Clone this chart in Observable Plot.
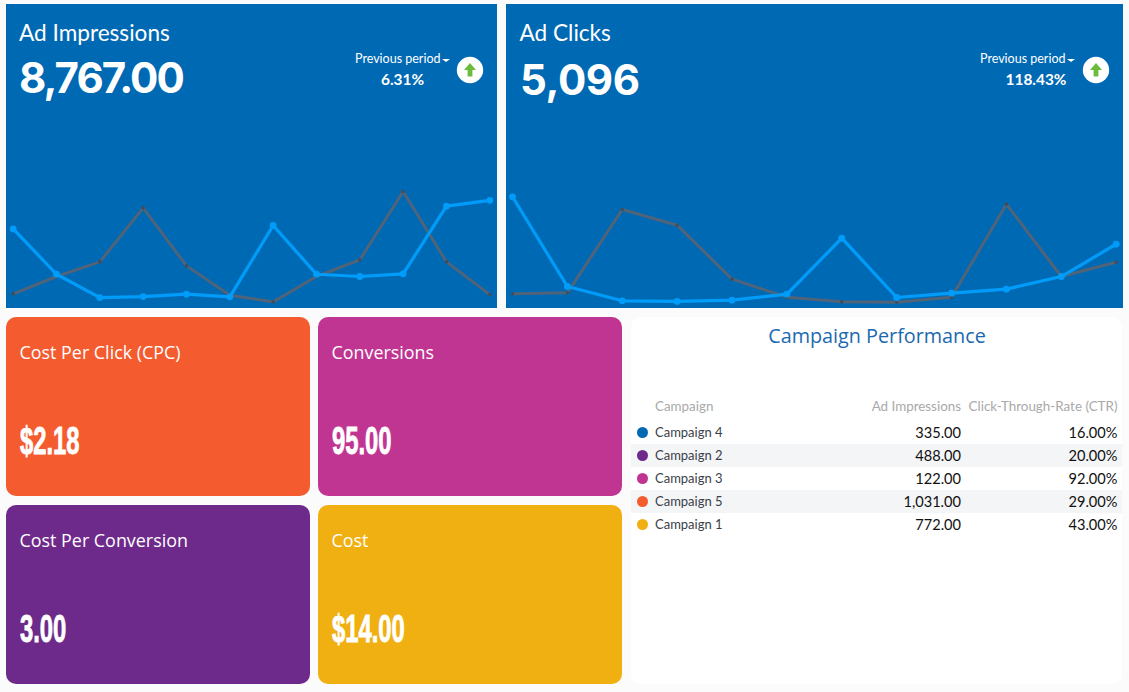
<!DOCTYPE html>
<html>
<head>
<meta charset="utf-8">
<script src="https://cdn.jsdelivr.net/npm/d3@7"></script>
<script src="https://cdn.jsdelivr.net/npm/@observablehq/plot@0.6"></script>
<style>
html,body{margin:0;padding:0;background:#fbfbfb;width:1129px;height:692px;overflow:hidden}
.box{position:absolute;box-sizing:border-box}
.txt{position:absolute;white-space:nowrap;color:#fff;line-height:1}
.kt{font-family:"Lato",sans-serif;font-size:22.6px}
.kv{font-family:"Inter",sans-serif;font-weight:700;font-size:42px}
.pp{font-family:"Lato",sans-serif;font-weight:400;font-size:12.5px;text-align:center}
.pv{font-family:"Lato",sans-serif;font-weight:700;font-size:15.4px;text-align:center}
.caret{position:absolute;width:0;height:0;border-left:4px solid transparent;border-right:4px solid transparent;border-top:3px solid #fff}
.ct{font-family:"Open Sans",sans-serif;font-size:17.9px}
.cv{font-family:"Liberation Sans",sans-serif;font-weight:700;font-size:39px;transform-origin:0 0;transform:scaleX(.61);-webkit-text-stroke:.9px #fff}
.card{border-radius:10px}
svg.icon{position:absolute}
svg{display:block}
.plot{position:absolute}
</style>
</head>
<body>
<div id="page"></div>
<script>
// Ad Impressions series
const periods = [0,1,2,3,4,5,6,7,8,9,10,11];
const impressionsCurrent  = [1155,575,277,290,320,286,1198,575,546,580,1445,1520];
const impressionsPrevious = [324,546,733,1424,682,307,222,546,759,1633,733,315];
// Ad Clicks series
const clicksCurrent  = [1531,287,88,79,97,180,957,134,194,250,425,874];
const clicksPrevious = [185,199,1355,1137,388,139,74,69,139,1429,425,624];
// Table
const tableHeaders = ["Campaign","Ad Impressions","Click-Through-Rate (CTR)"];
const campaigns   = ["Campaign 4","Campaign 2","Campaign 3","Campaign 5","Campaign 1"];
const adImpressions = ["335.00","488.00","122.00","1,031.00","772.00"];
const ctr = ["16.00%","20.00%","92.00%","29.00%","43.00%"];
const campaignColors = ["#0069b4","#6d2a8b","#c03592","#f45b2f","#f0b012"];
// Cards
const cardTitles = ["Cost Per Click (CPC)","Conversions","Cost Per Conversion","Cost"];
const cardValues = ["$2.18","95.00","3.00","$14.00"];

const page = document.getElementById("page");
function el(cls, css, text){
  const d = document.createElement("div");
  d.className = cls;
  d.style.cssText = css;
  if(text!==undefined) d.textContent = text;
  page.appendChild(d);
  return d;
}
function place(svg,left,top){
  svg.classList.add("plot");
  svg.style.left = left+"px";
  svg.style.top = top+"px";
  svg.style.position = "absolute";
  page.appendChild(svg);
}
function arrowIcon(cx,cy){
  const ns="http://www.w3.org/2000/svg";
  const s=document.createElementNS(ns,"svg");
  s.setAttribute("class","icon");
  s.setAttribute("width",28);s.setAttribute("height",28);
  s.setAttribute("viewBox","-14 -14 28 28");
  s.style.left=(cx-14)+"px";s.style.top=(cy-14)+"px";
  s.innerHTML='<circle r="13.2" fill="#fff"/><path d="M0,-7 L6,0 L2.4,0 L2.4,6.5 L-2.4,6.5 L-2.4,0 L-6,0 Z" fill="#6cbb3c"/>';
  page.appendChild(s);
}
function sparkline(cur,prev,width,ml,mr,domain){
  const rows=a=>periods.map((p,i)=>({p,v:a[i]}));
  return Plot.plot({
    width,height:304,marginTop:0,marginBottom:0,marginLeft:ml,marginRight:mr,
    style:{background:"transparent",overflow:"visible"},
    x:{axis:null,domain:[0,11]},
    y:{axis:null,domain},
    marks:[
      Plot.line(rows(prev),{x:"p",y:"v",stroke:"#4f6479",strokeWidth:3,curve:"linear"}),
      Plot.dot(rows(prev),{x:"p",y:"v",r:1.8,fill:"#3f4d5c"}),
      Plot.line(rows(cur),{x:"p",y:"v",stroke:"#009cfa",strokeWidth:3.2,curve:"linear"}),
      Plot.dot(rows(cur),{x:"p",y:"v",r:3.4,fill:"#009cfa"})
    ]
  });
}
// Top panels
el("box","left:6px;top:4px;width:491px;height:304px;background:#0069b4");
el("box","left:506px;top:4px;width:617px;height:304px;background:#0069b4");
place(sparkline(impressionsCurrent,impressionsPrevious,491,6.7,7.7,[137,4024]),6,4);
place(sparkline(clicksCurrent,clicksPrevious,617,6,7.3,[-18.5,4198]),506,4);

el("txt kt","left:19px;top:21.5px","Ad Impressions");
el("txt kv","left:19px;top:57px;letter-spacing:-1.9px","8,767.00");
el("txt kt","left:519.5px;top:21.5px","Ad Clicks");
el("txt kv","left:520px;top:59px;letter-spacing:-.4px","5,096");

el("txt pp","left:355px;top:52.5px","Previous period");
el("caret","left:442px;top:59px");
el("txt pv","left:352.5px;width:100px;top:72px","6.31%");
el("txt pp","left:980px;top:52.5px","Previous period");
el("caret","left:1067px;top:59px");
el("txt pv","left:986px;width:100px;top:72px","118.43%");
arrowIcon(470,70);
arrowIcon(1096,70);

// Cards
const cardBoxes = [
  {l:6,t:317,w:304,h:179,c:"#f45b2f"},
  {l:318,t:317,w:304,h:179,c:"#c03592"},
  {l:6,t:505,w:304,h:179,c:"#6d2a8b"},
  {l:318,t:505,w:304,h:179,c:"#f0b012"}
];
cardBoxes.forEach((b,i)=>{
  el("box card",`left:${b.l}px;top:${b.t}px;width:${b.w}px;height:${b.h}px;background:${b.c}`);
  el("txt ct",`left:${b.l+13.5}px;top:${b.t+26.5}px`,cardTitles[i]);
  el("txt cv",`left:${b.l+13.5}px;top:${b.t+103.5}px`,cardValues[i]);
});

// Table panel
el("box card","left:631px;top:317px;width:491px;height:367px;background:#fff");
el("txt","left:631.5px;width:491px;top:325px;text-align:center;font-family:'Open Sans',sans-serif;font-size:19.8px;color:#1b69b0;line-height:1.1","Campaign Performance");

const tableRows = campaigns.map((name,i)=>({name,imp:adImpressions[i],ctr:ctr[i],striped:i%2===1}));
const headerRow = [{name:"__header",a:tableHeaders[0],b:tableHeaders[1],c:tableHeaders[2]}];
const table = Plot.plot({
  width:491,height:140,marginTop:0,marginBottom:0,marginLeft:0,marginRight:0,
  style:{background:"transparent",fontFamily:"Lato",overflow:"visible"},
  y:{axis:null,type:"band",domain:["__header",...campaigns],padding:0},
  color:{domain:campaigns,range:campaignColors},
  marks:[
    Plot.cell(tableRows.filter(r=>r.striped),{y:"name",fill:"#f4f5f7",inset:0}),
    Plot.text(headerRow,{y:"name",frameAnchor:"left",dx:23.5,dy:-3,text:"a",fill:"#a9a9a9",fontSize:13.4}),
    Plot.text(headerRow,{y:"name",frameAnchor:"right",dx:-161.5,dy:-3,text:"b",fill:"#a9a9a9",fontSize:13.4}),
    Plot.text(headerRow,{y:"name",frameAnchor:"right",dx:-5,dy:-3,text:"c",fill:"#a9a9a9",fontSize:13.4}),
    Plot.dot(tableRows,{y:"name",frameAnchor:"left",dx:11,dy:-0.5,r:5.5,fill:"name"}),
    Plot.text(tableRows,{y:"name",frameAnchor:"left",dx:23.5,text:"name",fill:"#3a3f4a",fontSize:13}),
    Plot.text(tableRows,{y:"name",frameAnchor:"right",dx:-161.5,text:"imp",fill:"#111",fontSize:14.6}),
    Plot.text(tableRows,{y:"name",frameAnchor:"right",dx:-5,text:"ctr",fill:"#111",fontSize:14.6})
  ]
});
place(table,631,397);
</script>
</body>
</html>
